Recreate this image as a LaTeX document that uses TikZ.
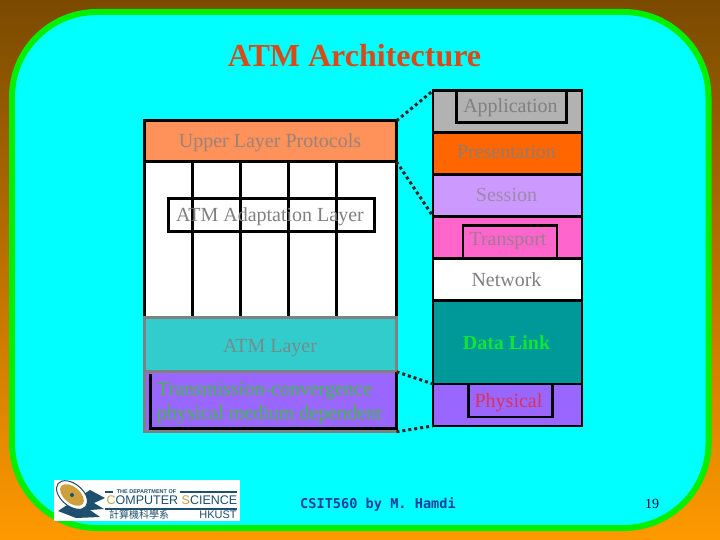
\documentclass[tikz,border=0pt]{standalone}
\usepackage{fontspec}
\setmainfont{Liberation Serif}
\setsansfont{Liberation Sans}
\setmonofont{DejaVu Sans Mono}
\newfontfamily\cjkfont{Noto Sans CJK TC}
\usepackage{xcolor}
\usetikzlibrary{positioning,calc}
\definecolor{bgbrown}{RGB}{122,74,0}
\definecolor{bgorange}{RGB}{255,153,0}
\definecolor{panelcyan}{RGB}{0,255,255}
\definecolor{panelgreen}{RGB}{0,240,0}
\definecolor{titlered}{RGB}{216,74,24}
\definecolor{labelgray}{RGB}{128,128,128}
\definecolor{upperfill}{RGB}{255,145,90}
\definecolor{appfill}{RGB}{178,178,178}
\definecolor{presfill}{RGB}{255,102,0}
\definecolor{sessfill}{RGB}{204,153,255}
\definecolor{transfill}{RGB}{255,102,204}
\definecolor{linkfill}{RGB}{0,153,153}
\definecolor{physfill}{RGB}{153,102,255}
\definecolor{atmfill}{RGB}{51,204,204}
\definecolor{logoblue}{RGB}{30,80,110}
\definecolor{logogold}{RGB}{205,160,60}
\definecolor{footerblue}{RGB}{16,64,160}
\definecolor{tcgreen}{RGB}{60,190,70}
\definecolor{physred}{RGB}{220,50,90}
\definecolor{linkgreen}{RGB}{16,230,50}

\begin{document}
\begin{tikzpicture}[
      x=1pt, y=-1pt,
      node distance=0pt,
      layer/.style   ={draw=black, line width=2.7pt, outer sep=0pt, inner sep=0pt,
                       minimum width=149pt, minimum height=41.9pt},
      inbox/.style   ={draw=black, line width=2.7pt, outer sep=0pt, inner sep=0pt},
      atmlayer/.style={draw=black, line width=2.7pt, outer sep=0pt, inner sep=0pt,
                       minimum width=252pt},
      lbl/.style     ={anchor=base, inner sep=0pt, font=\fontsize{20}{22}\selectfont,
                       text=labelgray},
      zoomline/.style={line width=3pt, draw=black!85, dash pattern=on 3pt off 3pt},
      divider/.style ={line width=2.7pt, draw=black}
    ]
    \useasboundingbox (0,0) rectangle (720,540);
    % --- slide background ---
    \shade[top color=bgbrown, bottom color=bgorange] (0,0) rectangle (720,540);
    \draw[line width=6pt, draw=panelgreen, fill=panelcyan, rounded corners=85pt]
      (12,12) rectangle (708.5,528);
    \node[lbl, font=\fontsize{32}{34}\selectfont\bfseries, text=titlered] (title)
      at (354.5,67) {ATM Architecture};
    % --- OSI stack ---
    \node[layer, fill=appfill, anchor=north west] (app) at (433,90.7) {};
    \node[layer, fill=presfill, below=of app] (pres) {};
    \node[layer, fill=sessfill, below=of pres] (sess) {};
    \node[layer, fill=transfill, below=of sess] (trans) {};
    \node[layer, fill=white, below=of trans] (net) {};
    \node[layer, fill=linkfill, below=of net, minimum height=83.8pt] (link) {};
    \node[layer, fill=physfill, below=of link] (phys) {};
    \node[inbox, minimum width=110pt, minimum height=32pt, anchor=north] (appbox)
      at ([xshift=4pt]app.north) {};
    \node[lbl] (applbl) at (510.5,113) {Application};
    \node[lbl, text=labelgray!85!presfill] (preslbl) at (506.5,159) {Presentation};
    \node[lbl, text=sessfill!35!labelgray] (sesslbl) at (506.5,202) {Session};
    \node[inbox, minimum width=94pt, minimum height=33pt, anchor=south] (transbox)
      at ([xshift=2.5pt]trans.south) {};
    \node[lbl, text=labelgray!75!transfill] (translbl) at (508,245) {Transport};
    \node[lbl] (netlbl) at (506.5,286) {Network};
    \node[lbl, text=linkgreen, font=\fontsize{20}{22}\selectfont\bfseries]
      (linklbl) at (506.5,349) {Data Link};
    \node[inbox, minimum width=84pt, minimum height=33pt, anchor=north] (physbox)
      at ([xshift=3pt]phys.north) {};
    \node[lbl, text=physred] (physlbl) at (508.5,407) {Physical};
    % --- ATM stack ---
    \node[atmlayer, fill=upperfill, minimum height=41pt, anchor=north west] (upper)
      at (144.5,120.8) {};
    \node[atmlayer, fill=white, minimum height=156pt, below=of upper] (aal) {};
    \foreach \i in {1,2,3,4}
      \draw[divider] ($(aal.north west)+(48*\i,0)$) -- ($(aal.south west)+(48*\i,0)$);
    \node[atmlayer, draw=labelgray, fill=atmfill, minimum height=54pt, below=of aal] (atm) {};
    \node[atmlayer, draw=labelgray, fill=physfill, minimum height=60pt, below=of atm] (tc) {};
    \draw[divider] ([xshift=6pt,yshift=-2pt]tc.north west)
      -- ([xshift=6pt,yshift=3pt]tc.south west)
      -- ([yshift=3pt]tc.south east) -- (tc.north east);
    \node[inbox, minimum width=206pt, minimum height=32.6pt] (aalbox) at (271.6,215) {};
    \node[lbl, text=labelgray!80!upperfill] (upperlbl) at (270,148) {Upper Layer Protocols};
    \node[lbl] (aallbl) at (270,222) {ATM Adaptation Layer};
    \node[lbl, text=labelgray!85!atmfill] (atmlbl) at (270,352) {ATM Layer};
    \node[lbl, anchor=base west, text=tcgreen] (tclbl) at (157,395)
      {Transmission-convergence};
    \node[lbl, anchor=base west, text=tcgreen] (pmdlbl) at (157,419)
      {physical medium dependent};
    % --- zoom lines ---
    \draw[zoomline] (upper.north east) -- (app.north west);
    \draw[zoomline] (upper.south east) -- (sess.south west);
    \draw[zoomline] (tc.north east) -- (phys.north west);
    \draw[zoomline] (tc.south east) -- (phys.south west);
    % --- logo ---
    \node[fill=white, minimum width=186pt, minimum height=40.5pt, inner sep=0pt, anchor=north west]
      (logo) at (54,480) {};
    \fill[logoblue] (58,511) -- (76,518) -- (100,517) -- (90,510) -- (104,509)
      -- (94,503) -- (105,498) -- (90,490) -- cycle;
    \draw[logoblue, line width=1pt, fill=white] (72,495) ellipse [x radius=18pt, y radius=11pt, rotate=-40];
    \fill[logogold] (72,495) ellipse [x radius=14pt, y radius=8pt, rotate=-40];
    \fill[logoblue] (72,495) circle (2pt);
    \draw[logoblue, line width=2pt] (105,492) -- (113,492) (180,492) -- (237,492);
    \draw[logoblue, line width=1.5pt] (105,509) -- (237,509);
    \node[font=\sffamily\bfseries\fontsize{5.5}{6}\selectfont, text=logoblue, inner sep=0pt]
      (logotop) at (146.5,492) {THE DEPARTMENT OF};
    \node[font=\sffamily\fontsize{12.5}{13}\selectfont, text=logoblue, inner sep=0pt]
      (logocs) at (172,500.5) {\textcolor{logogold}{C}OMPUTER \textcolor{logogold}{S}CIENCE};
    \node[font=\cjkfont\fontsize{10}{11}\selectfont, text=logoblue, inner sep=0pt]
      (logocn) at (139,515) {計算機科學系};
    \node[font=\sffamily\fontsize{11}{12}\selectfont, text=logoblue, inner sep=0pt]
      (logoust) at (218,515) {HKUST};
    % --- footer ---
    \node[lbl, font=\ttfamily\bfseries\fontsize{13.6}{15}\selectfont, text=footerblue]
      (footer) at (378,508) {CSIT560 by M. Hamdi};
    \node[lbl, font=\fontsize{14}{16}\selectfont, text=black!80!blue] (pageno)
      at (652,508) {19};
  \end{tikzpicture}
\end{document}
